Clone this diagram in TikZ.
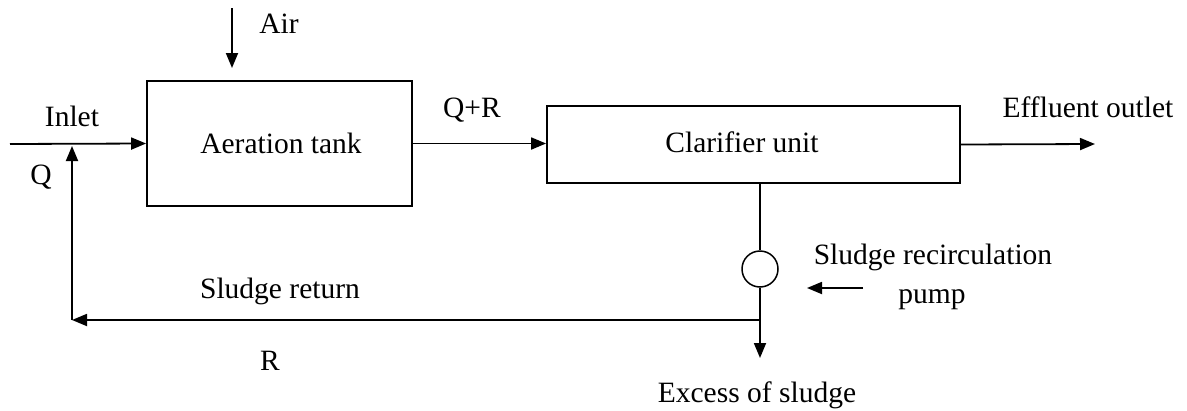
\documentclass[tikz,border=0pt]{standalone}
\usepackage{fontspec}
\setmainfont{Liberation Serif}
\usetikzlibrary{arrows.meta}
\tikzset{
  flow/.style={line width=1.8pt, -{Triangle[length=15pt,width=12pt]}},
  pipe/.style={line width=1.8pt},
  unit/.style={draw, line width=1.8pt, rectangle, inner sep=0pt},
  lbl/.style={inner sep=0pt, anchor=base, font=\fontsize{29.5}{35}\selectfont},
}
\begin{document}
\begin{tikzpicture}[x=1pt,y=-1pt]
  \useasboundingbox (0,0) rectangle (1187,410);

  % process units
  \node[unit, minimum width=265pt, minimum height=125pt] (aer) at (279.5,143.5) {};
  \node[lbl] (aertxt) at (281,153) {Aeration tank};
  \node[unit, minimum width=413pt, minimum height=77pt] (clar) at (753.5,144.5) {};
  \node[lbl] (clartxt) at (742,152) {Clarifier unit};
  \node[draw, circle, line width=1.5pt, minimum size=36pt, inner sep=0pt] (pump) at (760,269) {};

  % connector points
  \coordinate (airtop) at (232,8);
  \coordinate (airend) at (232,68);
  \coordinate (inlet) at (10,144);
  \coordinate (merge) at (72,146);
  \coordinate (corner) at (72,320);
  \coordinate (junction) at (760,320);
  \coordinate (clarout) at (760,183);
  \coordinate (excess) at (760,358);
  \coordinate (effluent) at (1095,144);
  \coordinate (pumptail) at (863,288);
  \coordinate (pumphead) at (807,288);

  % flows
  \draw[flow] (airtop) -- (airend);
  \draw[flow] (inlet) -- (aer.west);
  \draw[flow] (aer.east) -- (aer.east -| clar.west);
  \draw[flow] (clar.east) -- (effluent);
  \draw[pipe] (clarout) -- (pump.north);
  \draw[pipe] (pump.south) -- (junction);
  \draw[flow] (junction) -- (excess);
  \draw[flow] (junction) -- (corner);
  \draw[flow] (corner) -- (merge);
  \draw[flow] (pumptail) -- (pumphead);

  % labels
  \node[lbl] (airlbl) at (279,33) {Air};
  \node[lbl] (inletlbl) at (72,126) {Inlet};
  \node[lbl] (qlbl) at (41,184) {Q};
  \node[lbl] (qrlbl) at (472,117) {Q+R};
  \node[lbl] (efflbl) at (1088,117) {Effluent outlet};
  \node[lbl] (recirclbl) at (933,264) {Sludge recirculation};
  \node[lbl] (pumplbl) at (932,303) {pump};
  \node[lbl] (returnlbl) at (280,298) {Sludge return};
  \node[lbl] (rlbl) at (270,370) {R};
  \node[lbl] (excesslbl) at (757,402) {Excess of sludge};
\end{tikzpicture}
\end{document}
